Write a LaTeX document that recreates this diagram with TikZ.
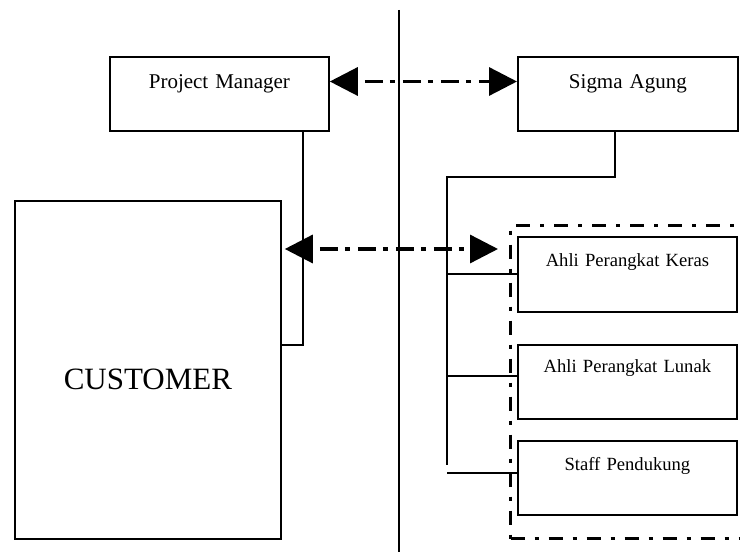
\documentclass[tikz,border=0pt]{standalone}
\usepackage{fontspec}
\setmainfont{Liberation Serif}
\usetikzlibrary{arrows.meta,calc}
\begin{document}
\begin{tikzpicture}[x=1pt,y=-1pt,
  box/.style={draw,line width=1.8pt,inner sep=0pt,align=center,anchor=north west},
  bigfont/.style={font=\fontsize{21}{25}\selectfont},
  smallfont/.style={font=\fontsize{18.6}{22}\selectfont},
  conn/.style={line width=1.8pt},
  tree/.style={line width=1.6pt},
  flow/.style={line width=3.3pt,dash pattern=on 18pt off 7pt on 5pt off 8pt,dash phase=30pt,
    {Triangle[length=28pt,width=28pt]}-{Triangle[length=28pt,width=28pt]}},
  group/.style={draw,line width=3.2pt,dash pattern=on 14pt off 10pt on 4pt off 10pt,
    inner sep=0pt,anchor=north west}
]
\useasboundingbox (0,0) rectangle (740,556);

% divider
\coordinate (divtop) at (399,10);
\coordinate (divbot) at (399,552);
\draw[conn] (divtop) -- (divbot);

% boxes
\node[box,bigfont,text width=219pt,text height=32pt,text depth=42pt] (pm) at (109,56) {Project Manager};
\node[box,bigfont,text width=220pt,text height=32pt,text depth=42pt] (sig) at (517,56) {Sigma Agung};
\node[box,font=\fontsize{31}{36}\selectfont,text width=266pt,text height=189pt,text depth=149pt] (cust) at (14,200) {CUSTOMER};

\node[group,minimum width=233pt,minimum height=313pt] (grp) at (509,224) {};

\node[box,smallfont,text width=219pt,text height=30pt,text depth=45pt] (kr) at (517,236) {Ahli Perangkat Keras};
\node[box,smallfont,text width=219pt,text height=28pt,text depth=46pt] (lu) at (517,344) {Ahli Perangkat Lunak};
\node[box,smallfont,text width=219pt,text height=30pt,text depth=44pt] (st) at (517,440) {Staff Pendukung};

% PM to customer
\draw[conn] ($(pm.south west)+(194,0)$) |- ($(cust.north east)+(0,145)$);

% tree from Sigma Agung
\coordinate (tt) at (447,177);
\coordinate (tb) at (447,465);
\draw[tree] ($(sig.south west)+(98,0)$) |- (tt) -- (tb);
\draw[tree] ($(kr.north west)+(0,38)$) -- +(-70,0);
\draw[tree] ($(lu.north west)+(0,32)$) -- +(-70,0);
\draw[tree] ($(st.north west)+(0,33)$) -- +(-70,0);

% dash-dot arrows
\draw[flow] ($(pm.north east)+(0,25.5)$) -- ($(sig.north west)+(0,25.5)$);
\draw[flow] ($(cust.north east)+(3,49)$) -- ($(grp.north west)+(-11,25)$);
\end{tikzpicture}
\end{document}
